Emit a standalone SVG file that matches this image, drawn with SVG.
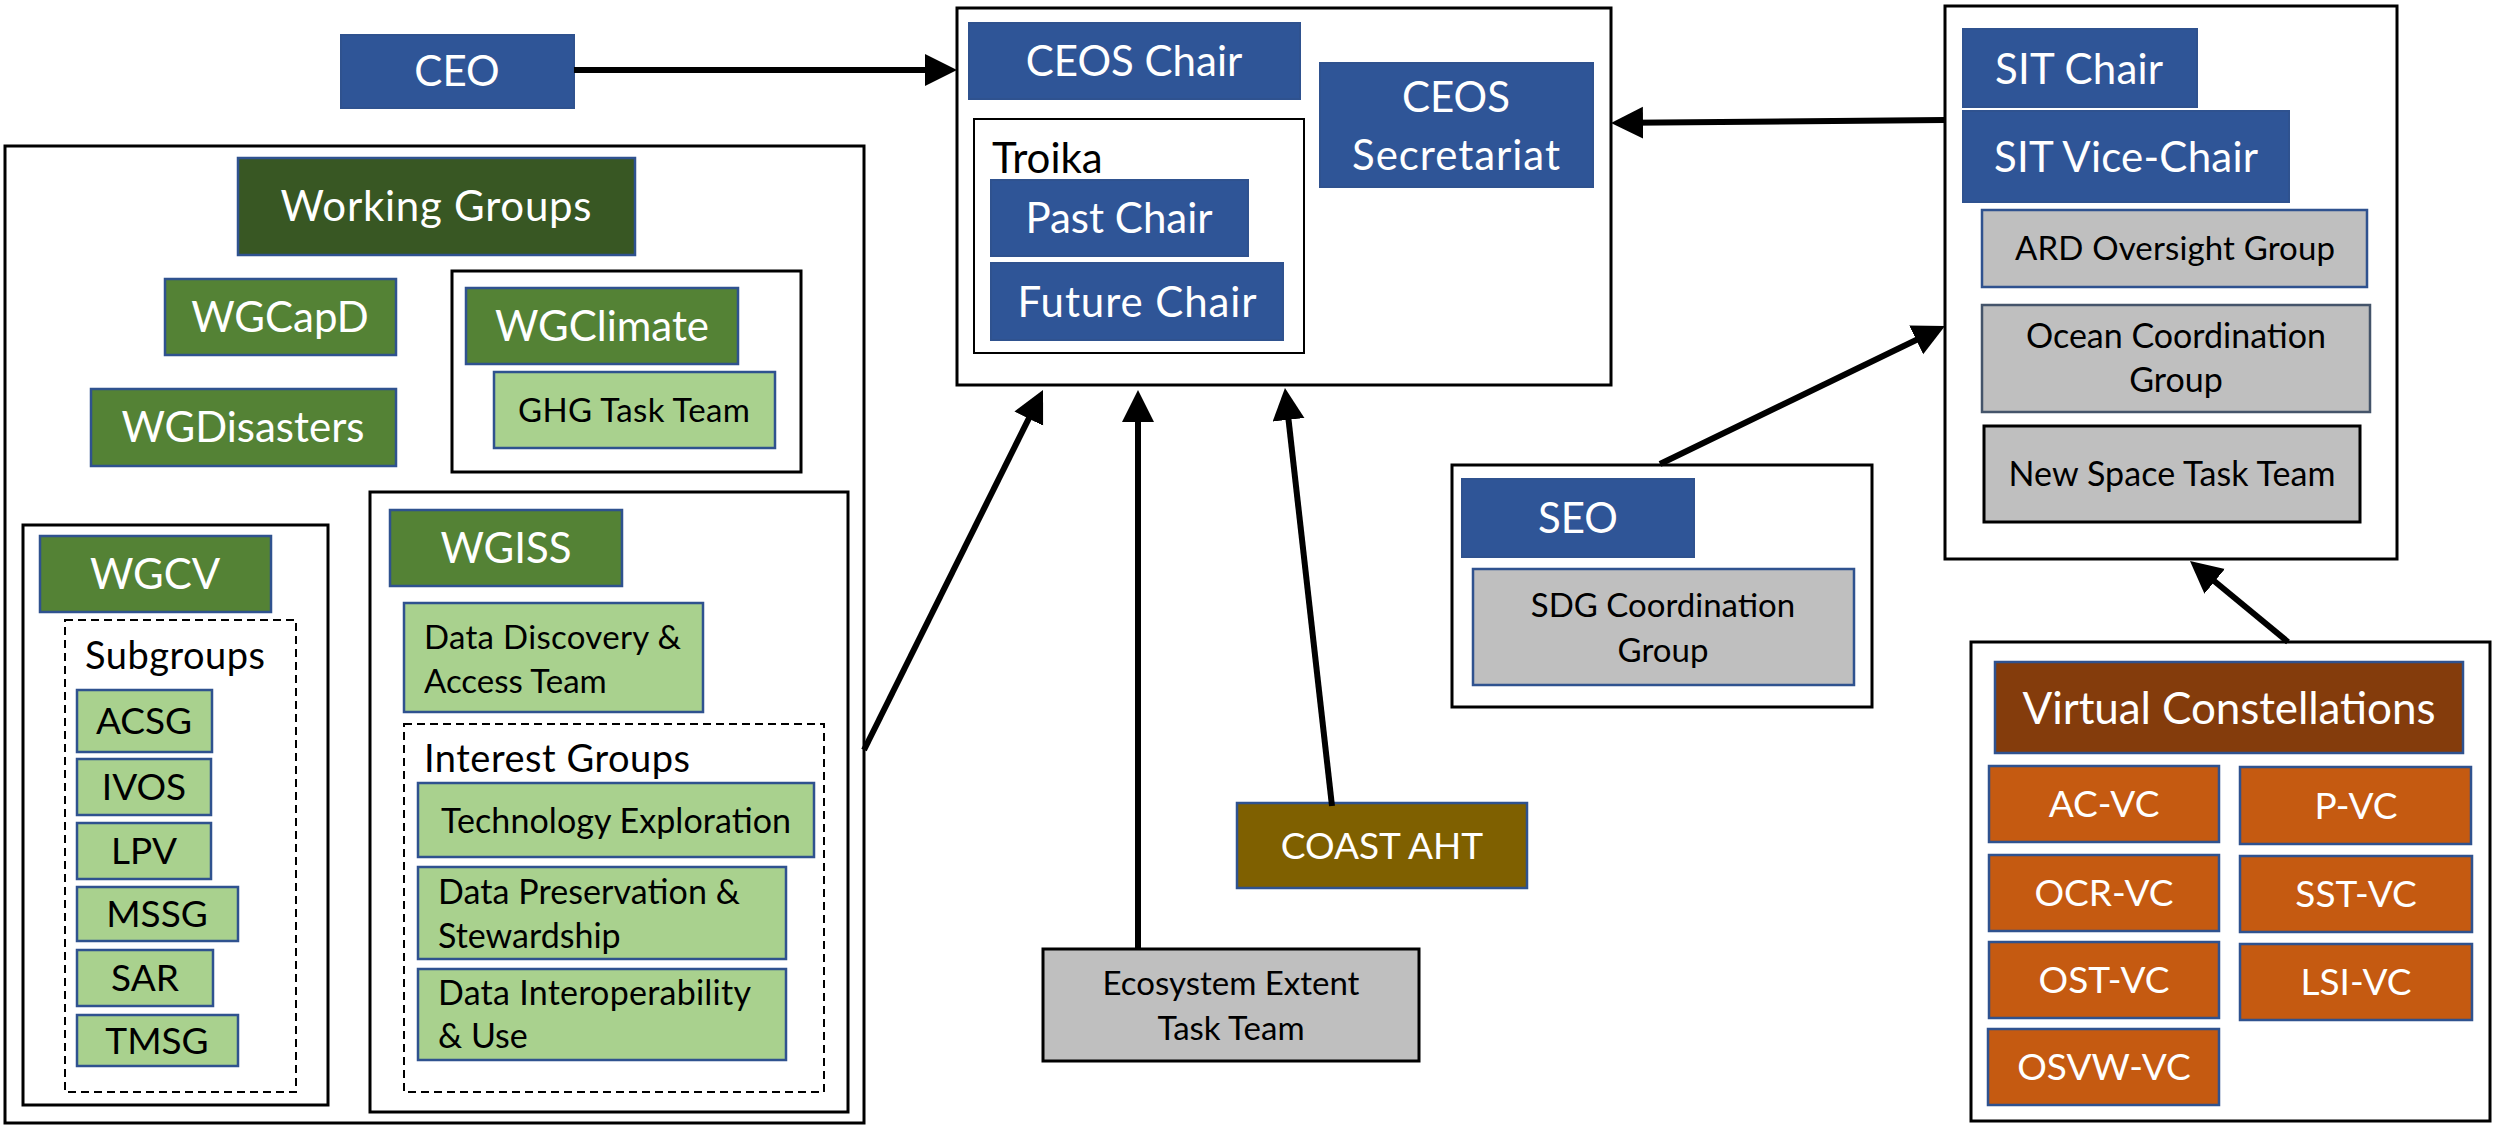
<svg xmlns="http://www.w3.org/2000/svg" width="2496" height="1125" viewBox="0 0 2496 1125">
<defs>
<marker id="ah" markerUnits="userSpaceOnUse" markerWidth="34" markerHeight="34" refX="12" refY="16" orient="auto">
<path d="M0,0 L32,16 L0,32 z" fill="#000"/>
</marker>
<style>
text{font-family:Lato,"Liberation Sans",sans-serif}
.frame{fill:#fff;stroke:#000;stroke-width:3}
.thin{fill:#fff;stroke:#000;stroke-width:2}
.dash{fill:none;stroke:#000;stroke-width:2;stroke-dasharray:8 5}
.blue{fill:#2F5597;stroke:#2F528F;stroke-width:2}
.dkg{fill:#385723;stroke:#2F528F;stroke-width:2.5}
.mg{fill:#548235;stroke:#2F528F;stroke-width:2.5}
.lg{fill:#A9D18E;stroke:#2F528F;stroke-width:2.5}
.gray{fill:#BFBFBF;stroke:#2F528F;stroke-width:2.5}
.grayk{fill:#BFBFBF;stroke:#000;stroke-width:3}
.grays{fill:#BFBFBF;stroke:#44546A;stroke-width:2.5}
.vch{fill:#843C0C;stroke:#2F528F;stroke-width:2.5}
.vc{fill:#C55A11;stroke:#2F528F;stroke-width:2.5}
.coast{fill:#7F6000;stroke:#2F528F;stroke-width:2.5}
.w{fill:#fff}
.k{fill:#000}
.c{text-anchor:middle}
.f42{font-size:42px}
.f44{font-size:44px}
.f38{font-size:38px}
.f37{font-size:37px}
.f34{font-size:34px}
.f33{font-size:33px}
.conn line{stroke:#000;stroke-width:6;marker-end:url(#ah)}
</style>
</defs>

<g id="ceos-group">
<rect class="frame" x="957" y="8" width="654" height="377"/>
</g>
<g id="ceo">
<rect class="blue" x="341" y="35" width="233" height="73"/>
<text class="w c f42" x="457" y="86">CEO</text>
</g>
<g id="ceos-chair">
<rect class="blue" x="969" y="23" width="331" height="76"/>
<text class="w c f42" x="1134" y="76">CEOS Chair</text>
</g>
<g id="troika">
<rect class="thin" x="974" y="119" width="330" height="234"/>
<text class="k f42" x="992" y="173">Troika</text>
</g>
<g id="past-chair">
<rect class="blue" x="991" y="180" width="257" height="76"/>
<text class="w c f42" x="1119" y="233">Past Chair</text>
</g>
<g id="future-chair">
<rect class="blue" x="991" y="263" width="292" height="77"/>
<text class="w c f42" x="1137" y="317" textLength="239">Future Chair</text>
</g>
<g id="ceos-secretariat">
<rect class="blue" x="1320" y="63" width="273" height="124"/>
<text class="w c f42" x="1456" y="112">CEOS</text>
<text class="w c f42" x="1456" y="170" textLength="208">Secretariat</text>
</g>

<g id="working-groups-frame">
<rect class="frame" x="5" y="146" width="859" height="977"/>
</g>
<g id="working-groups">
<rect class="dkg" x="238" y="158" width="397" height="97"/>
<text class="w c f42" x="436" y="221" textLength="311">Working Groups</text>
</g>
<g id="wgcapd">
<rect class="mg" x="165" y="279" width="231" height="76"/>
<text class="w c f42" x="280" y="332">WGCapD</text>
</g>
<g id="wgdisasters">
<rect class="mg" x="91" y="389" width="305" height="77"/>
<text class="w c f42" x="243" y="442">WGDisasters</text>
</g>
<g id="wgclimate-frame">
<rect class="frame" x="452" y="271" width="349" height="201"/>
</g>
<g id="wgclimate">
<rect class="mg" x="466" y="288" width="272" height="76"/>
<text class="w c f42" x="602" y="341">WGClimate</text>
</g>
<g id="ghg-task-team">
<rect class="lg" x="494" y="372" width="281" height="76"/>
<text class="k c f33" x="634" y="422" textLength="232">GHG Task Team</text>
</g>

<g id="wgcv-frame">
<rect class="frame" x="23" y="525" width="305" height="580"/>
</g>
<g id="wgcv">
<rect class="mg" x="40" y="536" width="231" height="76"/>
<text class="w c f42" x="155" y="589">WGCV</text>
</g>
<g id="subgroups">
<rect class="dash" x="65" y="620" width="231" height="472"/>
<text class="k f38" x="85" y="669" textLength="180">Subgroups</text>
</g>
<g id="acsg">
<rect class="lg" x="77" y="690" width="135" height="62"/>
<text class="k c f37" x="144" y="734">ACSG</text>
</g>
<g id="ivos">
<rect class="lg" x="77" y="759" width="134" height="56"/>
<text class="k c f37" x="144" y="800">IVOS</text>
</g>
<g id="lpv">
<rect class="lg" x="77" y="823" width="134" height="56"/>
<text class="k c f37" x="144" y="864">LPV</text>
</g>
<g id="mssg">
<rect class="lg" x="77" y="887" width="161" height="54"/>
<text class="k c f37" x="157" y="927">MSSG</text>
</g>
<g id="sar">
<rect class="lg" x="77" y="950" width="136" height="56"/>
<text class="k c f37" x="145" y="991">SAR</text>
</g>
<g id="tmsg">
<rect class="lg" x="77" y="1015" width="161" height="51"/>
<text class="k c f37" x="157" y="1054">TMSG</text>
</g>

<g id="wgiss-frame">
<rect class="frame" x="370" y="492" width="478" height="620"/>
</g>
<g id="wgiss">
<rect class="mg" x="390" y="510" width="232" height="76"/>
<text class="w c f42" x="506" y="563">WGISS</text>
</g>
<g id="data-discovery">
<rect class="lg" x="404" y="603" width="299" height="109"/>
<text class="k f33" x="424" y="649" textLength="257">Data Discovery &amp;</text>
<text class="k f33" x="424" y="693">Access Team</text>
</g>
<g id="interest-groups">
<rect class="dash" x="404" y="724" width="420" height="368"/>
<text class="k f38" x="424" y="772" textLength="266">Interest Groups</text>
</g>
<g id="technology-exploration">
<rect class="lg" x="418" y="783" width="396" height="74"/>
<text class="k f34" x="441" y="833" textLength="350">Technology Exploration</text>
</g>
<g id="data-preservation">
<rect class="lg" x="418" y="867" width="368" height="92"/>
<text class="k f34" x="438" y="904" textLength="302">Data Preservation &amp;</text>
<text class="k f34" x="438" y="948">Stewardship</text>
</g>
<g id="data-interoperability">
<rect class="lg" x="418" y="969" width="368" height="91"/>
<text class="k f34" x="438" y="1005" textLength="313">Data Interoperability</text>
<text class="k f34" x="438" y="1048">&amp; Use</text>
</g>

<g id="ecosystem-extent">
<rect class="grayk" x="1043" y="949" width="376" height="112"/>
<text class="k c f33" x="1231" y="995">Ecosystem Extent</text>
<text class="k c f33" x="1231" y="1040">Task Team</text>
</g>
<g id="coast-aht">
<rect class="coast" x="1237" y="803" width="290" height="85"/>
<text class="w c f37" x="1382" y="859">COAST AHT</text>
</g>

<g id="seo-frame">
<rect class="frame" x="1452" y="465" width="420" height="242"/>
</g>
<g id="seo">
<rect class="blue" x="1462" y="479" width="232" height="78"/>
<text class="w c f42" x="1578" y="533">SEO</text>
</g>
<g id="sdg-coordination-group">
<rect class="gray" x="1473" y="569" width="381" height="116"/>
<text class="k c f33" x="1663" y="617">SDG Coordination</text>
<text class="k c f33" x="1663" y="662">Group</text>
</g>

<g id="sit-frame">
<rect class="frame" x="1945" y="6" width="452" height="553"/>
</g>
<g id="sit-chair">
<rect class="blue" x="1963" y="29" width="234" height="78"/>
<text class="w c f42" x="2079" y="84" textLength="168">SIT Chair</text>
</g>
<g id="sit-vice-chair">
<rect class="blue" x="1963" y="111" width="326" height="91"/>
<text class="w c f42" x="2126" y="172" textLength="264">SIT Vice-Chair</text>
</g>
<g id="ard-oversight-group">
<rect class="gray" x="1982" y="210" width="385" height="77"/>
<text class="k c f33" x="2175" y="260" textLength="320">ARD Oversight Group</text>
</g>
<g id="ocean-coordination-group">
<rect class="grays" x="1982" y="305" width="388" height="107"/>
<text class="k c f34" x="2176" y="348" textLength="300">Ocean Coordination</text>
<text class="k c f34" x="2176" y="392">Group</text>
</g>
<g id="new-space-task-team">
<rect class="grayk" x="1984" y="426" width="376" height="96"/>
<text class="k c f34" x="2172" y="486" textLength="327">New Space Task Team</text>
</g>

<g id="vc-frame">
<rect class="frame" x="1971" y="642" width="519" height="479"/>
</g>
<g id="virtual-constellations">
<rect class="vch" x="1995" y="662" width="468" height="91"/>
<text class="w c f44" x="2229" y="724" textLength="413">Virtual Constellations</text>
</g>
<g id="ac-vc">
<rect class="vc" x="1989" y="766" width="230" height="76"/>
<text class="w c f37" x="2104" y="817">AC-VC</text>
</g>
<g id="p-vc">
<rect class="vc" x="2240" y="767" width="231" height="77"/>
<text class="w c f37" x="2356" y="819">P-VC</text>
</g>
<g id="ocr-vc">
<rect class="vc" x="1989" y="855" width="230" height="76"/>
<text class="w c f37" x="2104" y="906">OCR-VC</text>
</g>
<g id="sst-vc">
<rect class="vc" x="2240" y="856" width="232" height="76"/>
<text class="w c f37" x="2356" y="907">SST-VC</text>
</g>
<g id="ost-vc">
<rect class="vc" x="1989" y="942" width="230" height="76"/>
<text class="w c f37" x="2104" y="993">OST-VC</text>
</g>
<g id="lsi-vc">
<rect class="vc" x="2240" y="944" width="232" height="76"/>
<text class="w c f37" x="2356" y="995">LSI-VC</text>
</g>
<g id="osvw-vc">
<rect class="vc" x="1988" y="1029" width="231" height="76"/>
<text class="w c f37" x="2104" y="1080">OSVW-VC</text>
</g>

<g id="connectors" class="conn">
<line x1="574" y1="70" x2="937" y2="70"/>
<line x1="1945" y1="120" x2="1631" y2="122.8"/>
<line x1="864" y1="750" x2="1034.1" y2="407.9"/>
<line x1="1138" y1="949" x2="1138" y2="410"/>
<line x1="1332" y1="806" x2="1287.2" y2="407.9"/>
<line x1="1660" y1="464" x2="1927" y2="334.7"/>
<line x1="2288" y1="642" x2="2205.4" y2="573.7"/>
</g>
</svg>
